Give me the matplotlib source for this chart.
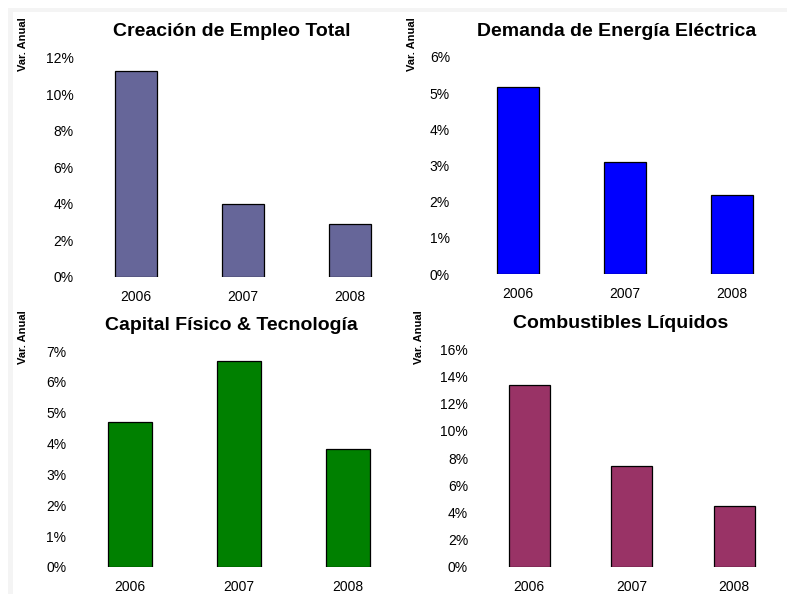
import matplotlib
matplotlib.use("Agg")
import matplotlib.pyplot as plt
from matplotlib.patches import Rectangle
from matplotlib.ticker import FuncFormatter

plt.rcParams['font.family'] = ['Liberation Sans', 'DejaVu Sans']

years = ["2006", "2007", "2008"]
titles = ["Creación de Empleo Total", "Demanda de Energía Eléctrica",
          "Capital Físico & Tecnología", "Combustibles Líquidos"]
empleo = [11.3, 4.0, 2.9]
energia = [5.18, 3.09, 2.18]
capital = [4.70, 6.66, 3.82]
combustibles = [13.4, 7.4, 4.47]
series = [empleo, energia, capital, combustibles]
colors = ["#666699", "#0000FF", "#008000", "#993366"]
ymax = [12, 6, 7, 16]
ystep = [2, 1, 1, 2]
ylabel = "Var. Anual"

W, H = 787, 594
fig = plt.figure(figsize=(W / 100, H / 100), dpi=100)

# faint frame bands
fig.patches.append(Rectangle((8 / W, 1 - 12 / H), 1 - 8 / W, 4 / H, transform=fig.transFigure,
                             facecolor="#f4f4f4", edgecolor="none"))
fig.patches.append(Rectangle((8 / W, 0), 5 / W, 1 - 8 / H, transform=fig.transFigure,
                             facecolor="#f4f4f4", edgecolor="none"))

# axes boxes in pixels: left, right, top, bottom
boxes = [(82.5, 403.5, 58, 277), (464.5, 785.5, 57, 274),
         (75.5, 402.5, 351, 567), (477.75, 785.25, 349.3, 566.7)]
title_pos = [(232, 32), (617, 32), (231, 325), (621, 323)]
ylab_pos = [(23, 17), (412, 17), (23, 310), (419, 310)]
ypads = [6.5, 10.5, 6.5, 7]

for i in range(4):
    l, r, t, b = boxes[i]
    ax = fig.add_axes([l / W, 1 - b / H, (r - l) / W, (b - t) / H])
    ax.bar(range(len(years)), series[i], width=0.4, color=colors[i],
           edgecolor="black", linewidth=0.9)
    ax.set_xlim(-0.5, len(years) - 0.5)
    ax.set_ylim(0, ymax[i])
    ax.set_yticks(list(range(0, ymax[i] + 1, ystep[i])))
    ax.yaxis.set_major_formatter(FuncFormatter(lambda v, p: f"{v:.0f}%"))
    ax.set_xticks(range(len(years)))
    ax.set_xticklabels(years)
    for s in ax.spines.values():
        s.set_visible(False)
    ax.tick_params(axis="both", length=0, labelsize=10, colors="black")
    ax.tick_params(axis="y", pad=ypads[i])
    ax.tick_params(axis="x", pad=9.5)
    ax.patch.set_alpha(0)
    tx, ty = title_pos[i]
    fig.text(tx / W, 1 - ty / H, titles[i], ha="center", va="center",
             fontsize=14, fontweight="bold")
    lx, ly = ylab_pos[i]
    fig.text(lx / W, 1 - ly / H, ylabel, ha="center", va="top", rotation=90,
             fontsize=8, fontweight="bold")

fig.savefig("out.png", dpi=100, facecolor="white")
